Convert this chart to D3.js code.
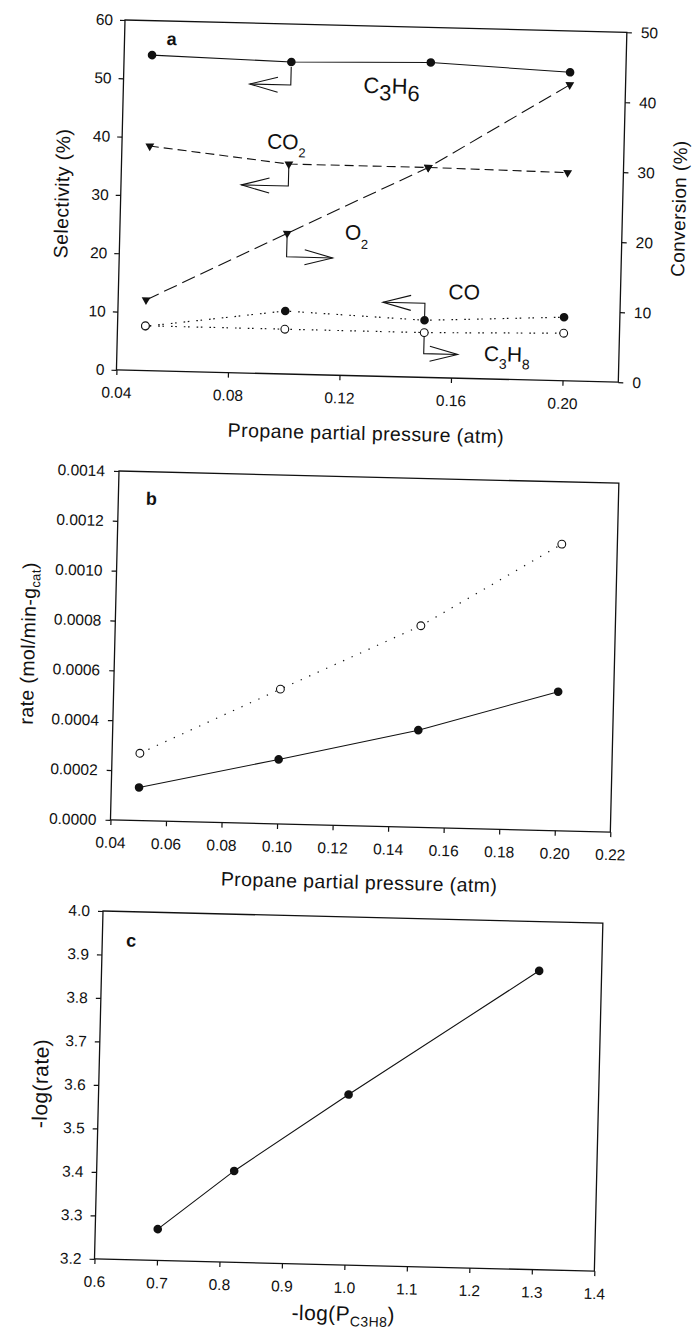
<!DOCTYPE html>
<html>
<head>
<meta charset="utf-8">
<script src="https://cdn.jsdelivr.net/npm/d3@7"></script>
<style>
  html, body { margin: 0; padding: 0; background: #fff; }
  svg { display: block; }
  text { font-family: "Liberation Sans", Arial, Helvetica, sans-serif; fill: #111; }
</style>
</head>
<body>
<svg id="fig" width="695" height="1329"></svg>
<script>
// ---- data -------------------------------------------------------------
// propane partial pressure in the feed (atm)
const pressure = [0.05, 0.10, 0.15, 0.20];

// (a) selectivities (%), left axis
const selC3H6 = [54.1, 53.5, 54.0, 52.9];
const selCO2  = [38.5, 36.0, 36.0, 35.7];
const selCO   = [7.6, 10.8, 9.8, 10.9];
// (a) conversions (%), right axis
const convO2   = [10.1, 20.1, 30.0, 42.3];
const convC3H8 = [6.4, 6.4, 6.4, 6.8];

// (b) rates (mol/min-g_cat)
const rateFilled = [0.000133, 0.000259, 0.000390, 0.000558];
const rateOpen   = [0.000270, 0.000541, 0.000809, 0.001150];

// (c) log-log form of the filled-series rate
const negLogP    = [0.70, 0.82, 1.00, 1.30];
const negLogRate = [3.272, 3.410, 3.592, 3.887];

// tick values
const ticksAx    = [0.04, 0.08, 0.12, 0.16, 0.20];
const ticksSel   = [0, 10, 20, 30, 40, 50, 60];
const ticksConv  = [0, 10, 20, 30, 40, 50];
const ticksBx    = [0.04, 0.06, 0.08, 0.10, 0.12, 0.14, 0.16, 0.18, 0.20, 0.22];
const ticksBy    = [0, 0.0002, 0.0004, 0.0006, 0.0008, 0.0010, 0.0012, 0.0014];
const ticksCx    = [0.6, 0.7, 0.8, 0.9, 1.0, 1.1, 1.2, 1.3, 1.4];
const ticksCy    = [3.2, 3.3, 3.4, 3.5, 3.6, 3.7, 3.8, 3.9, 4.0];

// ---- drawing helpers --------------------------------------------------
const FONT = '"Liberation Sans", Arial, Helvetica, sans-serif';
const INK = '#111';
const TILT = 1.4;   // the printed figure sits slightly askew
const svg = d3.select('#fig');

function makePanel(ox, oy, w, h) {
  const g = svg.append('g').attr('transform', `translate(${ox},${oy}) rotate(${TILT})`);
  g.append('rect').attr('width', w).attr('height', h)
    .attr('fill', 'none').attr('stroke', INK).attr('stroke-width', 1.3);
  return g;
}

function styleAxis(sel) {
  sel.select('.domain').remove();
  sel.selectAll('.tick line').attr('stroke', INK).attr('stroke-width', 1.2);
  sel.selectAll('.tick text').attr('fill', INK)
    .style('font-size', '15.5px').style('font-family', FONT);
}

function drawAxis(g, axis, tx, ty) {
  const a = g.append('g').attr('transform', `translate(${tx},${ty})`).call(axis);
  styleAxis(a);
  return a;
}

function drawLine(g, xs, ys, xScale, yScale, dash, width) {
  const line = d3.line().x((d, i) => xScale(xs[i])).y(d => yScale(d));
  g.append('path').datum(ys).attr('d', line)
    .attr('fill', 'none').attr('stroke', INK)
    .attr('stroke-width', width || 1.1)
    .attr('stroke-dasharray', dash || null);
}

function filledDots(g, xs, ys, xScale, yScale) {
  g.selectAll(null).data(ys).enter().append('circle')
    .attr('cx', (d, i) => xScale(xs[i])).attr('cy', d => yScale(d))
    .attr('r', 4.3).attr('fill', INK);
}

function openDots(g, xs, ys, xScale, yScale) {
  g.selectAll(null).data(ys).enter().append('circle')
    .attr('cx', (d, i) => xScale(xs[i])).attr('cy', d => yScale(d))
    .attr('r', 3.9).attr('fill', '#fff').attr('stroke', INK).attr('stroke-width', 1.1);
}

function downTriangles(g, xs, ys, xScale, yScale) {
  const sym = d3.symbol().type(d3.symbolTriangle).size(34);
  g.selectAll(null).data(ys).enter().append('path')
    .attr('d', sym)
    .attr('transform', (d, i) => `translate(${xScale(xs[i])},${yScale(d)}) rotate(180)`)
    .attr('fill', INK);
}

// bent leader with an open arrow head, pointing to the axis a series belongs to
function bentArrow(g, x, y, start, dv, dh) {
  const tipX = x + dh, tipY = y + dv, s = Math.sign(dh), len = 28, hw = 7.5;
  g.append('path')
    .attr('d', `M${x},${y + start}V${tipY}H${tipX}`)
    .attr('fill', 'none').attr('stroke', INK).attr('stroke-width', 1.1);
  g.append('path')
    .attr('d', `M${tipX - s * len},${tipY - hw}L${tipX},${tipY}L${tipX - s * len},${tipY + hw}`)
    .attr('fill', 'none').attr('stroke', INK).attr('stroke-width', 1.1);
}

// chemical label: list of [text, size, dy]
function chemLabel(g, x, y, parts) {
  const t = g.append('text').attr('x', x).attr('y', y);
  parts.forEach(([s, size, dy]) => {
    t.append('tspan').text(s).style('font-size', size + 'px').attr('dy', dy);
  });
  return t;
}

function xTitle(g, x, y, size) {
  return g.append('text').attr('x', x).attr('y', y)
    .attr('text-anchor', 'middle').style('font-size', size + 'px')
    .style('letter-spacing', '0.4px');
}

function yTitle(g, x, y, size) {
  return g.append('text').attr('transform', `translate(${x},${y}) rotate(-90)`)
    .attr('text-anchor', 'middle').style('font-size', size + 'px')
    .style('letter-spacing', '0.4px');
}

function panelTag(g, x, y, s) {
  g.append('text').attr('x', x).attr('y', y).attr('text-anchor', 'middle')
    .style('font-size', '18px').style('font-weight', 'bold').text(s);
}

// ---- panel a: selectivity / conversion vs propane pressure ------------
{
  const w = 502, h = 350;
  const g = makePanel(125, 20, w, h);
  const x = d3.scaleLinear().domain([0.04, 0.22]).range([0, w]);
  const yS = d3.scaleLinear().domain([0, 60]).range([h, 0]);
  const yC = d3.scaleLinear().domain([0, 50]).range([h, 0]);

  drawAxis(g, d3.axisBottom(x).tickValues(ticksAx).tickFormat(d3.format('.2f'))
    .tickSize(5).tickSizeOuter(0).tickPadding(12), 0, h);
  drawAxis(g, d3.axisLeft(yS).tickValues(ticksSel).tickFormat(d3.format('d'))
    .tickSize(5).tickSizeOuter(0).tickPadding(7), 0, 0);
  drawAxis(g, d3.axisRight(yC).tickValues(ticksConv).tickFormat(d3.format('d'))
    .tickSize(5).tickSizeOuter(0).tickPadding(9), w, 0);

  drawLine(g, pressure, selC3H6, x, yS, null, 1.1);
  drawLine(g, pressure, selCO2, x, yS, '9,5', 1.1);
  drawLine(g, pressure, convO2, x, yC, '14,6', 1.1);
  drawLine(g, pressure, selCO, x, yS, '1.6,2.6,1.6,7', 1.2);
  drawLine(g, pressure, convC3H8, x, yC, '1.6,2.6,1.6,7', 1.2);

  filledDots(g, pressure, selC3H6, x, yS);
  downTriangles(g, pressure, selCO2, x, yS);
  downTriangles(g, pressure, convO2, x, yC);
  filledDots(g, pressure, selCO, x, yS);
  openDots(g, pressure, convC3H8, x, yC);

  bentArrow(g, x(pressure[1]), yS(selC3H6[1]), 5, 23, -41);
  bentArrow(g, x(pressure[1]), yS(selCO2[1]), 4, 22, -47);
  bentArrow(g, x(pressure[1]), yC(convO2[1]), 4, 23.5, 46);
  bentArrow(g, x(pressure[2]), yS(selCO[2]), -4, -17, -42);
  bentArrow(g, x(pressure[2]), yC(convC3H8[2]), 4, 21, 34);

  chemLabel(g, 240, 67, [['C', 22, 0], ['3', 22, 7], ['H', 22, -7], ['6', 22, 7]]);
  chemLabel(g, 145, 125, [['CO', 21, 0], ['2', 13, 8]]);
  chemLabel(g, 225, 214, [['O', 21, 0], ['2', 13, 9]]);
  chemLabel(g, 330, 271, [['CO', 21, 0]]);
  chemLabel(g, 367, 332, [['C', 21, 0], ['3', 14, 7.5], ['H', 21, -7.5], ['8', 14, 7.5]]);

  panelTag(g, 47, 24, 'a');
  xTitle(g, w / 2, 414, 19.5).text('Propane partial pressure (atm)');
  yTitle(g, -52, h / 2, 19.5).text('Selectivity (%)');
  yTitle(g, 565, h / 2, 19).text('Conversion (%)');
}

// ---- panel b: rates vs propane pressure -------------------------------
{
  const w = 500, h = 349;
  const g = makePanel(119, 471, w, h);
  const x = d3.scaleLinear().domain([0.04, 0.22]).range([0, w]);
  const y = d3.scaleLinear().domain([0, 0.0014]).range([h, 0]);

  drawAxis(g, d3.axisBottom(x).tickValues(ticksBx).tickFormat(d3.format('.2f'))
    .tickSize(5).tickSizeOuter(0).tickPadding(12), 0, h);
  drawAxis(g, d3.axisLeft(y).tickValues(ticksBy).tickFormat(d3.format('.4f'))
    .tickSize(5).tickSizeOuter(0).tickPadding(9), 0, 0);

  drawLine(g, pressure, rateFilled, x, y, null, 1.1);
  drawLine(g, pressure, rateOpen, x, y, '1.3,8', 1.2);
  filledDots(g, pressure, rateFilled, x, y);
  openDots(g, pressure, rateOpen, x, y);

  panelTag(g, 33, 33, 'b');
  xTitle(g, w / 2, 412, 19.5).text('Propane partial pressure (atm)');
  const t = yTitle(g, -80, h / 2, 19.5);
  t.append('tspan').text('rate (mol/min-g');
  t.append('tspan').text('cat').style('font-size', '13px').attr('dy', 4);
  t.append('tspan').text(')').attr('dy', -4);
}

// ---- panel c: -log(rate) vs -log(P) -----------------------------------
{
  const w = 500, h = 348;
  const g = makePanel(103, 911, w, h);
  const x = d3.scaleLinear().domain([0.6, 1.4]).range([0, w]);
  const y = d3.scaleLinear().domain([3.2, 4.0]).range([h, 0]);

  drawAxis(g, d3.axisBottom(x).tickValues(ticksCx).tickFormat(d3.format('.1f'))
    .tickSize(5).tickSizeOuter(0).tickPadding(12), 0, h);
  drawAxis(g, d3.axisLeft(y).tickValues(ticksCy).tickFormat(d3.format('.1f'))
    .tickSize(5).tickSizeOuter(0).tickPadding(8), 0, 0);

  drawLine(g, negLogP, negLogRate, x, y, null, 1.1);
  filledDots(g, negLogP, negLogRate, x, y);

  panelTag(g, 29, 35, 'c');
  const tx = xTitle(g, w / 2, 404, 21);
  tx.append('tspan').text('-log(P');
  tx.append('tspan').text('C3H8').style('font-size', '14px').attr('dy', 5);
  tx.append('tspan').text(')').attr('dy', -5);
  yTitle(g, -51, h / 2, 21).text('-log(rate)');
}
</script>
</body>
</html>
